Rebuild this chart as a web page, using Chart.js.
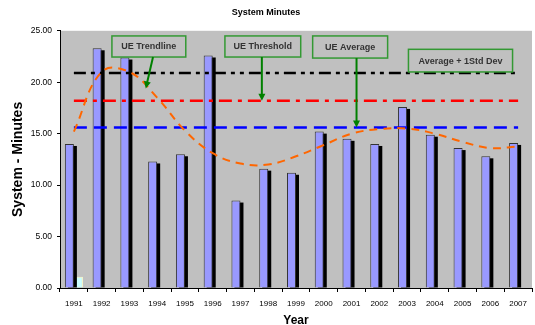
<!DOCTYPE html>
<html>
<head>
<meta charset="utf-8">
<script src="https://cdn.jsdelivr.net/npm/chart.js@4/dist/chart.umd.min.js"></script>
<style>
  html, body { margin: 0; padding: 0; background: #fff; }
  #wrap { width: 535px; height: 325px; }
</style>
</head>
<body>
<div id="wrap"><canvas id="chart"></canvas></div>
<script>
// data
const years = ['1991', '1992', '1993', '1994', '1995', '1996', '1997', '1998', '1999',
  '2000', '2001', '2002', '2003', '2004', '2005', '2006', '2007'];
const systemMinutes = [14.0, 23.3, 22.4, 12.3, 13.0, 22.6, 8.5, 11.6, 11.2,
  15.2, 14.5, 14.0, 17.6, 14.9, 13.6, 12.8, 14.1];
const secondBar = [1.1, null, null, null, null, null, null, null, null,
  null, null, null, null, null, null, null, null];
const trendline = [15.2, 21.0, 21.0, 18.5, 15.3, 13.1, 12.1, 12.0, 12.8,
  13.9, 15.0, 15.45, 15.5, 15.0, 14.2, 13.6, 13.75];
const ueAverage = 15.6;
const ueThreshold = 18.2;
const avgPlusStd = 20.9;
const yTicks = [0, 5, 10, 15, 20, 25];

// callout boxes: x in category index units, y in minutes
const noteLabels = ['UE Trendline', 'UE Threshold', 'UE Average', 'Average + 1Std Dev'];
const noteBoxX = [[1.37, 4.03], [5.44, 8.17], [8.6, 11.3], [12.05, 15.8]];
const noteBoxY = [[24.5, 22.45], [24.5, 22.45], [24.5, 22.35], [23.2, 21.0]];
const noteArrows = [[2.85, 22.45, 2.59, 19.4], [6.77, 22.45, 6.77, ueThreshold], [10.18, 22.35, 10.18, ueAverage], null];

const FONT = "'Liberation Sans', Arial, sans-serif";
const flat = v => years.map(() => v);

const plotBg = {
  id: 'plotBg',
  beforeDraw(chart) {
    const { ctx, chartArea: a } = chart;
    ctx.save();
    ctx.fillStyle = '#C0C0C0';
    ctx.fillRect(a.left, a.top, a.right - a.left, a.bottom - a.top);
    ctx.restore();
  }
};

// black drop shadow behind the main bars
const barShadow = {
  id: 'barShadow',
  beforeDatasetDraw(chart, args) {
    if (args.index !== 0) return;
    const ctx = chart.ctx;
    ctx.save();
    ctx.fillStyle = '#000';
    args.meta.data.forEach(bar => {
      const { x, y, base, width } = bar.getProps(['x', 'y', 'base', 'width'], true);
      if (y == null || isNaN(y)) return;
      ctx.fillRect(x - width / 2 + 3, y + 2, width, base - y - 2);
    });
    ctx.restore();
  }
};

const callouts = {
  id: 'callouts',
  afterDatasetsDraw(chart) {
    const { ctx, scales: { x, y } } = chart;
    ctx.save();
    noteLabels.forEach((label, i) => {
      const x0 = x.getPixelForValue(noteBoxX[i][0]);
      const x1 = x.getPixelForValue(noteBoxX[i][1]);
      const y0 = y.getPixelForValue(noteBoxY[i][0]);
      const y1 = y.getPixelForValue(noteBoxY[i][1]);
      ctx.fillStyle = '#C0C0C0';
      ctx.fillRect(x0, y0, x1 - x0, y1 - y0);
      ctx.strokeStyle = '#339933';
      ctx.lineWidth = 1.5;
      ctx.strokeRect(x0, y0, x1 - x0, y1 - y0);
      ctx.fillStyle = '#333';
      ctx.font = 'bold 9px ' + FONT;
      ctx.textAlign = 'center';
      ctx.textBaseline = 'middle';
      ctx.fillText(label, (x0 + x1) / 2, (y0 + y1) / 2 + 0.5);

      const arr = noteArrows[i];
      if (!arr) return;
      const sx = x.getPixelForValue(arr[0]), sy = y.getPixelForValue(arr[1]);
      const ex = x.getPixelForValue(arr[2]), ey = y.getPixelForValue(arr[3]);
      const ang = Math.atan2(ey - sy, ex - sx);
      ctx.strokeStyle = '#008000';
      ctx.fillStyle = '#008000';
      ctx.lineWidth = 2;
      ctx.beginPath();
      ctx.moveTo(sx, sy);
      ctx.lineTo(ex - 5 * Math.cos(ang), ey - 5 * Math.sin(ang));
      ctx.stroke();
      ctx.beginPath();
      ctx.moveTo(ex, ey);
      ctx.lineTo(ex - 7 * Math.cos(ang) + 3.5 * Math.sin(ang), ey - 7 * Math.sin(ang) - 3.5 * Math.cos(ang));
      ctx.lineTo(ex - 7 * Math.cos(ang) - 3.5 * Math.sin(ang), ey - 7 * Math.sin(ang) + 3.5 * Math.cos(ang));
      ctx.closePath();
      ctx.fill();
    });
    ctx.restore();
  }
};

const refLine = (label, value, color, dash, order) => ({
  type: 'line',
  label,
  data: flat(value),
  borderColor: color,
  borderWidth: 2.5,
  borderDash: dash,
  pointRadius: 0,
  fill: false,
  order
});

new Chart(document.getElementById('chart'), {
  type: 'bar',
  data: {
    labels: years,
    datasets: [
      {
        label: 'System Minutes',
        data: systemMinutes,
        backgroundColor: '#9999FF',
        borderColor: '#333333',
        borderWidth: 1,
        order: 9
      },
      {
        label: 'Other',
        data: secondBar,
        backgroundColor: '#CCFFFF',
        borderColor: '#FFFFCC',
        borderWidth: 1,
        order: 10
      },
      refLine('Average + 1Std Dev', avgPlusStd, '#000000', [12, 5, 4, 5, 4, 5], 4),
      refLine('UE Threshold', ueThreshold, '#FF0000', [13, 6, 4, 6], 3),
      refLine('UE Average', ueAverage, '#0000FF', [13, 7], 2),
      {
        type: 'line',
        label: 'UE Trendline',
        data: trendline,
        borderColor: '#FF6600',
        borderWidth: 2,
        borderDash: [8, 6],
        tension: 0.4,
        pointRadius: 0,
        fill: false,
        order: 1
      }
    ]
  },
  options: {
    responsive: true,
    maintainAspectRatio: false,
    animation: false,
    datasets: { bar: { categoryPercentage: 0.65, barPercentage: 1.0 } },
    layout: { padding: { left: 0, right: 3, top: 0, bottom: 0 } },
    plugins: {
      legend: { display: false },
      tooltip: { enabled: false },
      title: {
        display: true,
        text: 'System Minutes',
        color: '#000',
        font: { family: FONT, size: 9, weight: 'bold' },
        padding: { top: 7, bottom: 13 }
      }
    },
    scales: {
      x: {
        grid: { display: true, drawOnChartArea: false, drawTicks: true, tickLength: 4, color: '#000' },
        border: { color: '#000', width: 1 },
        ticks: { color: '#000', font: { family: FONT, size: 8 }, padding: 7, maxRotation: 0, autoSkip: false },
        title: {
          display: true,
          text: 'Year',
          color: '#000',
          font: { family: FONT, size: 12, weight: 'bold' },
          padding: { top: 0, bottom: -3 }
        },
        afterFit(scale) { scale.height = 37; }
      },
      y: {
        min: 0,
        max: 25,
        afterBuildTicks(scale) { scale.ticks = yTicks.map(v => ({ value: v })); },
        grid: { display: true, drawOnChartArea: false, drawTicks: true, tickLength: 3, color: '#000' },
        border: { color: '#000', width: 1 },
        ticks: { color: '#000', font: { family: FONT, size: 8.5 }, padding: 5, callback: v => v.toFixed(2) },
        title: {
          display: true,
          text: 'System - Minutes',
          color: '#000',
          font: { family: FONT, size: 14, weight: 'bold' },
          padding: { top: 10, bottom: 0 }
        },
        afterFit(scale) { scale.width = 60; }
      }
    }
  },
  plugins: [plotBg, barShadow, callouts]
});
</script>
</body>
</html>
